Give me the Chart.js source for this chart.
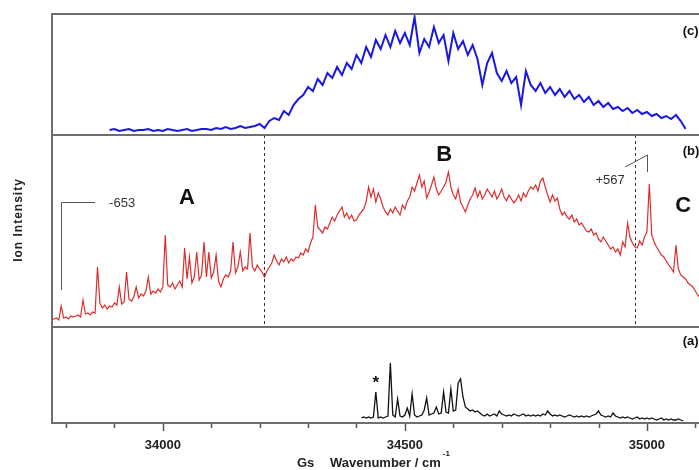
<!DOCTYPE html>
<html>
<head>
<meta charset="utf-8">
<script src="https://cdn.jsdelivr.net/npm/chart.js"></script>
<style>
  html, body { margin: 0; padding: 0; background: #fff; overflow: hidden; }
  #wrap { width: 730px; height: 470px; }
</style>
</head>
<body>
<div id="wrap"><canvas id="spec" width="730" height="470"></canvas></div>
<script>
// wavenumber axis (cm-1)
const xTicks = [33800, 33900, 34000, 34100, 34200, 34300, 34400, 34500, 34600, 34700, 34800, 34900, 35000, 35100];
const xLabels = [34000, 34500, 35000];

// (c) blue trace, 33890 -> 35080 every 10 cm-1
const blueStart = 33890, blueStep = 10;
const blueValues = [
  5, 6, 4, 5, 6, 4, 5, 5, 6, 4,
  5, 4, 6, 5, 4, 5, 6, 4, 5, 6,
  6, 5, 7, 6, 8, 6, 7, 9, 7, 8,
  9, 11, 7, 14, 17, 15, 24, 20, 30, 36,
  40, 48, 44, 56, 50, 62, 57, 68, 60, 72,
  66, 80, 72, 88, 78, 95, 86, 100, 88, 104,
  92, 102, 90, 118, 82, 96, 88, 108, 92, 100,
  74, 102, 86, 94, 80, 90, 76, 50, 72, 82,
  62, 54, 64, 52, 58, 30, 64, 50, 44, 52,
  42, 48, 40, 46, 38, 44, 36, 40, 33, 38,
  30, 34, 28, 32, 26, 28, 24, 27, 22, 25,
  21, 23, 19, 21, 17, 19, 16, 20, 14, 6
];

// (b) red trace, 33770 -> 35140 every 5 cm-1
const redStart = 33770, redStep = 5;
const redValues = [
  7, 8, 9, 7, 21, 9, 10, 8, 11, 10,
  11, 12, 10, 27, 13, 14, 12, 15, 14, 60,
  24, 19, 22, 18, 21, 20, 24, 22, 40, 23,
  25, 55, 28, 26, 30, 40, 29, 33, 31, 36,
  50, 33, 36, 34, 38, 35, 40, 92, 42, 40,
  44, 38, 42, 46, 40, 79, 48, 70, 44, 50,
  75, 47, 52, 85, 50, 75, 49, 55, 72, 46,
  40, 48, 52, 50, 56, 85, 54, 60, 75, 56,
  60, 58, 94, 60, 56, 62, 58, 55, 50, 56,
  60, 64, 72, 66, 62, 68, 65, 70, 64, 68,
  66, 70, 69, 74, 72, 78, 75, 84, 90, 122,
  100, 97, 94, 100, 98, 104, 110, 106, 112, 116,
  120, 110, 114, 108, 112, 106, 107, 112, 115, 118,
  125, 140, 130, 138, 125, 134, 128, 120, 115, 112,
  118, 114, 120, 116, 112, 122, 118, 126, 130, 140,
  136, 144, 152, 140, 146, 129, 135, 142, 150, 138,
  132, 136, 140, 145, 155, 140, 132, 128, 138, 125,
  120, 115, 122, 128, 132, 139, 130, 136, 128, 132,
  138, 134, 130, 136, 128, 132, 138, 130, 126, 132,
  128, 124, 127, 132, 126, 134, 130, 136, 140, 138,
  142, 136, 146, 149, 140, 132, 125, 132, 126, 129,
  118, 112, 115, 110, 108, 112, 105, 108, 102, 104,
  100, 96, 95, 98, 92, 94, 88, 85, 90, 86,
  82, 78, 80, 75, 78, 72, 85, 80, 104, 90,
  84, 80, 79, 86, 82, 90, 95, 143, 92, 85,
  80, 76, 72, 70, 66, 62, 59, 55, 82, 58,
  52, 50, 48, 44, 42, 40, 36, 32, 29, 28,
  26, 24, 22, 20, 18
];

// (a) black trace, 34410 -> 35075 every 5 cm-1
const blackStart = 34410, blackStep = 5;
const blackValues = [
  5, 6, 5, 6, 5, 6, 31, 5, 6, 5,
  6, 7, 60, 8, 6, 24, 7, 6, 8, 15,
  7, 29, 8, 6, 7, 8, 13, 25, 8, 9,
  10, 16, 9, 10, 31, 11, 10, 34, 12, 13,
  40, 44, 26, 16, 14, 12, 13, 11, 12, 10,
  8, 7, 9, 7, 8, 9, 7, 12, 9, 8,
  7, 8, 7, 9, 8, 7, 8, 9, 7, 8,
  7, 8, 7, 8, 7, 9, 8, 12, 9, 7,
  8, 7, 8, 7, 6, 7, 8, 7, 6, 7,
  6, 7, 6, 7, 6, 7, 8, 9, 12, 8,
  7, 6, 7, 6, 10, 7, 6, 5, 6, 5,
  6, 5, 4, 5, 6, 4, 5, 4, 5, 4,
  5, 4, 3, 4, 5, 3, 4, 3, 4, 3,
  3, 4, 3, 2
];

// annotations (wavenumber, panel value)
const dashWn = [34209, 34975];
const bandLabels = ['A', 'B', 'C'];
const bandWn = [34050, 34581, 35075];
const bandY = [129, 172, 121];
const panelLabels = ['(c)', '(b)', '(a)'];
const panelLabelWn = 35074;
const panelLabelY = [104, 176, 82];
const shift653 = { text: '-653', wn: 33790, low: 37, high: 125, endWn: 33860, textWn: 33889, textY: 124 };
const shift567 = { text: '+567', wn: 35000, low: 155, high: 172, startWn: 34955, startY: 160, textWn: 34924, textY: 147 };
const starMark = { text: '*', wn: 34440, y: 43 };

const FONT = '"Liberation Sans", Arial, sans-serif';

function toPoints(start, step, values) {
  return values.map((v, i) => ({ x: start + i * step, y: v }));
}

const overlay = {
  id: 'overlay',
  afterDraw(chart) {
    const ctx = chart.ctx;
    const { left, right } = chart.chartArea;
    const sx = chart.scales.x, yC = chart.scales.yC, yB = chart.scales.yB, yA = chart.scales.yA;
    ctx.save();

    // dashed markers through panel (b)
    ctx.strokeStyle = '#333';
    ctx.lineWidth = 1;
    ctx.setLineDash([3, 3]);
    dashWn.forEach(w => {
      const px = Math.round(sx.getPixelForValue(w)) + 0.5;
      ctx.beginPath();
      ctx.moveTo(px, yB.top);
      ctx.lineTo(px, yB.bottom);
      ctx.stroke();
    });
    ctx.setLineDash([]);

    // panel frames
    ctx.strokeStyle = '#6e6e6e';
    ctx.lineWidth = 2;
    [yC, yB, yA].forEach(s => ctx.strokeRect(left, s.top, right - left, s.bottom - s.top));

    // x tick marks
    ctx.strokeStyle = '#555';
    ctx.lineWidth = 1.5;
    xTicks.forEach(v => {
      const px = Math.round(sx.getPixelForValue(v)) + 0.5;
      const len = xLabels.includes(v) ? 7 : 4;
      ctx.beginPath();
      ctx.moveTo(px, yA.bottom + 1);
      ctx.lineTo(px, yA.bottom + 1 + len);
      ctx.stroke();
    });

    // shift brackets
    ctx.strokeStyle = '#555';
    ctx.lineWidth = 1;
    let px = Math.round(sx.getPixelForValue(shift653.wn)) + 0.5;
    let top = Math.round(yB.getPixelForValue(shift653.high)) + 0.5;
    ctx.beginPath();
    ctx.moveTo(px, yB.getPixelForValue(shift653.low));
    ctx.lineTo(px, top);
    ctx.lineTo(sx.getPixelForValue(shift653.endWn), top);
    ctx.stroke();

    px = Math.round(sx.getPixelForValue(shift567.wn)) + 0.5;
    ctx.beginPath();
    ctx.moveTo(sx.getPixelForValue(shift567.startWn), yB.getPixelForValue(shift567.startY));
    ctx.lineTo(px, yB.getPixelForValue(shift567.high));
    ctx.lineTo(px, yB.getPixelForValue(shift567.low));
    ctx.stroke();

    ctx.fillStyle = '#333';
    ctx.textBaseline = 'middle';
    ctx.font = '13px ' + FONT;
    ctx.textAlign = 'left';
    ctx.fillText(shift653.text, sx.getPixelForValue(shift653.textWn), yB.getPixelForValue(shift653.textY));
    ctx.textAlign = 'center';
    ctx.fillText(shift567.text, sx.getPixelForValue(shift567.textWn), yB.getPixelForValue(shift567.textY));

    // band letters
    ctx.fillStyle = '#111';
    ctx.font = 'bold 22px ' + FONT;
    bandLabels.forEach((t, i) => {
      ctx.fillText(t, sx.getPixelForValue(bandWn[i]), yB.getPixelForValue(bandY[i]));
    });

    // panel tags
    ctx.font = 'bold 13px ' + FONT;
    ctx.textAlign = 'left';
    [yC, yB, yA].forEach((s, i) => {
      ctx.fillText(panelLabels[i], sx.getPixelForValue(panelLabelWn), s.getPixelForValue(panelLabelY[i]));
    });

    // asterisk
    ctx.textAlign = 'center';
    ctx.font = 'bold 17px ' + FONT;
    ctx.fillText(starMark.text, sx.getPixelForValue(starMark.wn), yA.getPixelForValue(starMark.y) + 3);

    // axis titles
    ctx.fillStyle = '#222';
    ctx.font = 'bold 12px ' + FONT;
    ctx.save();
    ctx.translate(19, 220);
    ctx.rotate(-Math.PI / 2);
    ctx.letterSpacing = '1px';
    ctx.textAlign = 'center';
    ctx.fillText('Ion Intensity', 0, 0);
    ctx.restore();

    ctx.textAlign = 'left';
    ctx.font = 'bold 13px ' + FONT;
    ctx.fillText('Gs', 297, 463);
    ctx.fillText('Wavenumber / cm', 330, 463);
    const w = ctx.measureText('Wavenumber / cm').width;
    ctx.font = 'bold 8px ' + FONT;
    ctx.fillText('-1', 330 + w + 2, 454);

    ctx.restore();
  }
};

const yBase = {
  type: 'linear',
  position: 'left',
  stack: 'panels',
  offset: false,
  min: 0,
  afterFit: s => { s.width = 52; },
  grid: { display: false, drawTicks: false },
  border: { display: false },
  ticks: { display: false }
};

new Chart(document.getElementById('spec'), {
  type: 'line',
  data: {
    datasets: [
      {
        label: '(c)',
        data: toPoints(blueStart, blueStep, blueValues),
        yAxisID: 'yC',
        borderColor: 'rgb(25, 25, 225)',
        borderWidth: 2,
        pointRadius: 0,
        tension: 0
      },
      {
        label: '(b)',
        data: toPoints(redStart, redStep, redValues),
        yAxisID: 'yB',
        borderColor: 'rgb(222, 45, 45)',
        borderWidth: 1.2,
        pointRadius: 0,
        tension: 0
      },
      {
        label: '(a)',
        data: toPoints(blackStart, blackStep, blackValues),
        yAxisID: 'yA',
        borderColor: '#111',
        borderWidth: 1.3,
        pointRadius: 0,
        tension: 0
      }
    ]
  },
  options: {
    responsive: false,
    animation: false,
    layout: { padding: { top: 14, right: 10, left: 0, bottom: 0 } },
    plugins: { legend: { display: false }, tooltip: { enabled: false } },
    scales: {
      x: {
        type: 'linear',
        min: 33771,
        max: 35151,
        afterBuildTicks: s => { s.ticks = xTicks.map(v => ({ value: v })); },
        afterFit: s => { s.height = 47; },
        grid: { display: false, drawTicks: false },
        border: { display: false },
        ticks: {
          autoSkip: false,
          maxRotation: 0,
          padding: 15,
          color: '#222',
          font: { family: FONT, size: 13, weight: 'bold' },
          callback: v => xLabels.includes(v) ? String(v) : ''
        }
      },
      yC: Object.assign({}, yBase, { axis: 'y', max: 121, stackWeight: 121, weight: 3 }),
      yB: Object.assign({}, yBase, { axis: 'y', max: 192, stackWeight: 192, weight: 2 }),
      yA: Object.assign({}, yBase, { axis: 'y', max: 96, stackWeight: 96, weight: 1 })
    }
  },
  plugins: [overlay]
});
</script>
</body>
</html>
